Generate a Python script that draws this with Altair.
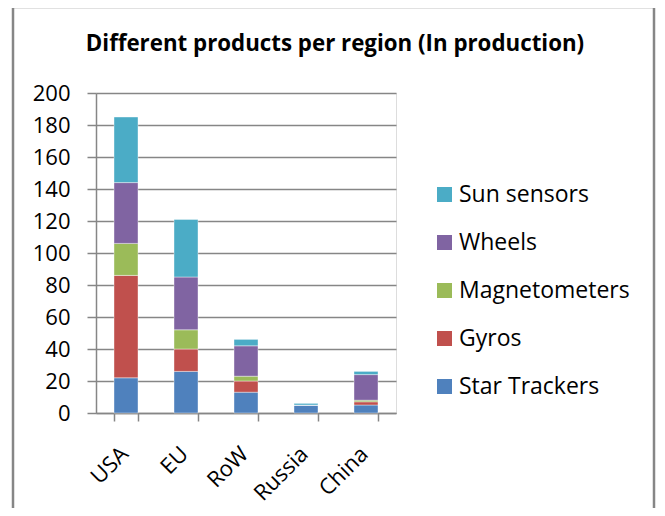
import altair as alt
import pandas as pd

regions = ["USA", "EU", "RoW", "Russia", "China"]
star_trackers = [22, 26, 13, 5, 5]
gyros = [64, 14, 7, 0, 2]
magnetometers = [20, 12, 3, 0, 1]
wheels = [38, 33, 19, 0, 16]
sun_sensors = [41, 36, 4, 1, 2]

products = ["Star Trackers", "Gyros", "Magnetometers", "Wheels", "Sun sensors"]
series = [star_trackers, gyros, magnetometers, wheels, sun_sensors]
colors = ["#4F81BD", "#C0504D", "#9BBB59", "#8064A2", "#4BACC6"]

rows = []
for i, (p, vals) in enumerate(zip(products, series)):
    for r, v in zip(regions, vals):
        rows.append({"region": r, "product": p, "value": v, "idx": i})
df = pd.DataFrame(rows)

FONT = "Open Sans"
GRAY = "#868686"

bars = alt.Chart(df).mark_bar(stroke="white", strokeWidth=0.4).encode(
    x=alt.X("region:N", sort=regions, title=None,
            scale=alt.Scale(paddingInner=0.6, paddingOuter=0.3),
            axis=alt.Axis(labelAngle=-45, labelFont=FONT, labelFontSize=22,
                          labelColor="black", tickBand="extent", tickSize=8,
                          tickColor=GRAY, domainColor=GRAY, domainWidth=1.5,
                          tickWidth=1.5, labelPadding=22, labelOffset=-9,
                          grid=False)),
    y=alt.Y("value:Q", stack="zero", title=None,
            scale=alt.Scale(domain=[0, 200]),
            axis=alt.Axis(values=list(range(0, 201, 20)), labelFont=FONT,
                          labelFontSize=22, labelColor="black", tickSize=9,
                          tickColor=GRAY, tickWidth=1.5, domainColor=GRAY,
                          domainWidth=1.5, gridColor=GRAY, gridWidth=1.5,
                          labelPadding=17)),
    color=alt.Color("product:N",
                    scale=alt.Scale(domain=products[::-1], range=colors[::-1]),
                    legend=alt.Legend(title=None, orient="none", legendX=337,
                                      legendY=90, symbolType="square",
                                      symbolSize=225, symbolStrokeWidth=0,
                                      labelFont=FONT, labelFontSize=23,
                                      labelColor="black", rowPadding=24,
                                      labelOffset=3, labelLimit=400)),
    order=alt.Order("idx:Q", sort="ascending"),
)

border = alt.Chart(pd.DataFrame({"a": [0]})).mark_rect(
    filled=False, stroke=GRAY, strokeWidth=2.5
).encode(x=alt.value(-83), x2=alt.value(558), y=alt.value(-86), y2=alt.value(440))

chart = alt.layer(border, bars).properties(
    width=300, height=320,
    title=alt.TitleParams("Different products per region (In production)",
                          font=FONT, fontSize=22.3, fontWeight="bold",
                          color="black", anchor="middle", offset=0,
                          dy=50, dx=89),
    autosize=alt.AutoSizeParams(type="none"),
    padding={"left": 88, "top": 85, "right": 261, "bottom": 95},
).configure_view(stroke=None).configure(background="white")

chart.save("out.html", embed_options={"renderer": "svg", "actions": False})
